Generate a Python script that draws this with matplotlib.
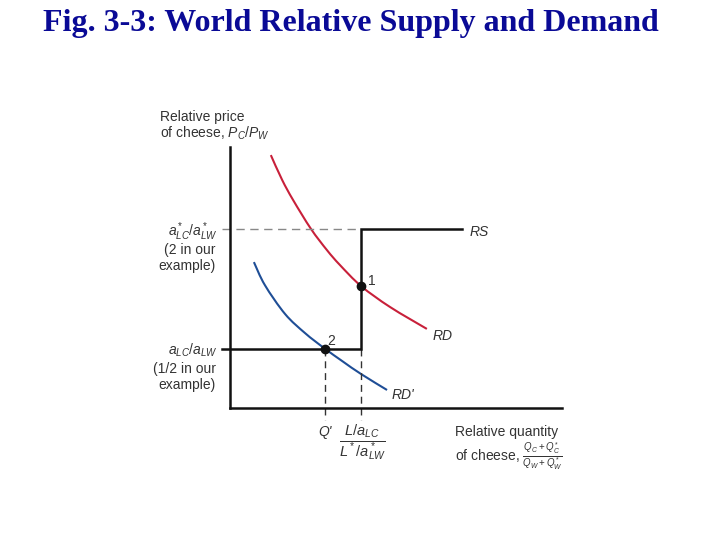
import numpy as np
import matplotlib
matplotlib.use("Agg")
import matplotlib.pyplot as plt
from matplotlib.path import Path
from matplotlib.patches import PathPatch

plt.rcParams['font.family'] = ['Liberation Sans', 'DejaVu Sans']
plt.rcParams['mathtext.fontset'] = 'custom'
plt.rcParams['mathtext.rm'] = 'Liberation Sans'
plt.rcParams['mathtext.it'] = 'Liberation Sans:italic'

# schematic data (arbitrary units, axes run 0..10)
rd_x = [1.23, 1.57, 1.90, 2.44, 2.92, 3.31, 3.95, 4.82, 5.93]
rd_y = [9.69, 8.74, 7.97, 6.86, 6.05, 5.48, 4.67, 3.87, 3.03]
rd2_x = [0.72, 1.05, 1.66, 2.26, 2.83, 3.40, 3.95, 4.73]
rd2_y = [5.59, 4.71, 3.60, 2.87, 2.30, 1.78, 1.30, 0.69]

rs_high = 6.86      # a*LC/a*LW
rs_low = 2.26       # aLC/aLW
rs_kink = 3.95      # L/aLC / L*/a*LW
rs_end = 6.99
q_prime = 2.86
eq1 = (3.95, 4.67)
eq2 = (2.86, 2.26)

RED = "#c8203a"
BLUE = "#1f4e96"
TXT = "#333333"


def smooth_path(xs, ys):
    # Catmull-Rom through the points, drawn as cubic Bezier segments
    p = np.column_stack([xs, ys])
    verts = [p[0]]
    codes = [Path.MOVETO]
    for i in range(len(p) - 1):
        p0 = p[i - 1] if i > 0 else p[i]
        p3 = p[i + 2] if i + 2 < len(p) else p[i + 1]
        c1 = p[i] + (p[i + 1] - p0) / 6
        c2 = p[i + 1] - (p3 - p[i]) / 6
        verts += [c1, c2, p[i + 1]]
        codes += [Path.CURVE4] * 3
    return Path(verts, codes)


fig = plt.figure(figsize=(7.2, 5.4), dpi=100)
fig.text(351 / 720, 1 - 23 / 540, "Fig. 3-3: World Relative Supply and Demand",
         family="Liberation Serif", weight="bold", fontsize=23, color="#0a0a96",
         ha="center", va="center")

ax = fig.add_axes([230 / 720, 1 - 408 / 540, 332 / 720, 261 / 540])
ax.set_xlim(0, 10)
ax.set_ylim(0, 10)
for s in ("top", "right"):
    ax.spines[s].set_visible(False)
for s in ("left", "bottom"):
    ax.spines[s].set_linewidth(1.8)
    ax.spines[s].set_color("#111111")
ax.set_xticks([])
ax.set_yticks([])

# guide lines
ax.plot([-0.25, rs_kink], [rs_high, rs_high], color="#888888", lw=1.0,
        dashes=(6, 4), clip_on=False)
for xv in (q_prime, rs_kink):
    ax.plot([xv, xv], [rs_low, -0.45], color="#333333", lw=1.0,
            dashes=(5, 3.5), clip_on=False)

# RS
ax.plot([-0.25, rs_kink, rs_kink, rs_end], [rs_low, rs_low, rs_high, rs_high],
        color="#111111", lw=1.8, clip_on=False, solid_joinstyle="miter")

# RD curves
ax.add_patch(PathPatch(smooth_path(rd_x, rd_y), fill=False, ec=RED, lw=1.5))
ax.add_patch(PathPatch(smooth_path(rd2_x, rd2_y), fill=False, ec=BLUE, lw=1.5))

ax.plot(*eq1, "o", color="#111111", ms=6)
ax.plot(*eq2, "o", color="#111111", ms=6)


def ft(px, py, s, **kw):
    kw.setdefault("color", TXT)
    kw.setdefault("fontsize", 10)
    fig.text(px / 720, 1 - py / 540, s, **kw)


ft(368, 281, "1", ha="left", va="center")
ft(327, 341, "2", ha="left", va="center")
ft(470, 232, "RS", style="italic", ha="left", va="center")
ft(433, 336, "RD", style="italic", ha="left", va="center")
ft(392, 395, "RD'", style="italic", ha="left", va="center")

ft(160, 126, "Relative price\nof cheese, $P_C/P_W$", ha="left", va="center",
   linespacing=1.0)
ft(217, 232, "$a^*_{LC}/a^*_{LW}$", ha="right", va="center")
ft(216, 258, "(2 in our\nexample)", ha="right", va="center", linespacing=1.15)
ft(217, 350, "$a_{LC}/a_{LW}$", ha="right", va="center")
ft(216, 377, "(1/2 in our\nexample)", ha="right", va="center", linespacing=1.15)

ft(325, 432, "Q'", style="italic", ha="center", va="center")
ft(363, 443, r"$\frac{L/a_{LC}}{L^*/a^*_{LW}}$", ha="center", va="center",
   fontsize=15)
ft(455, 432, "Relative quantity", ha="left", va="center")
ft(455, 456, r"of cheese, $\frac{Q_C+Q^*_C}{Q_W+Q^*_W}$", ha="left",
   va="center", fontsize=10)

fig.savefig("out.png", dpi=100)
